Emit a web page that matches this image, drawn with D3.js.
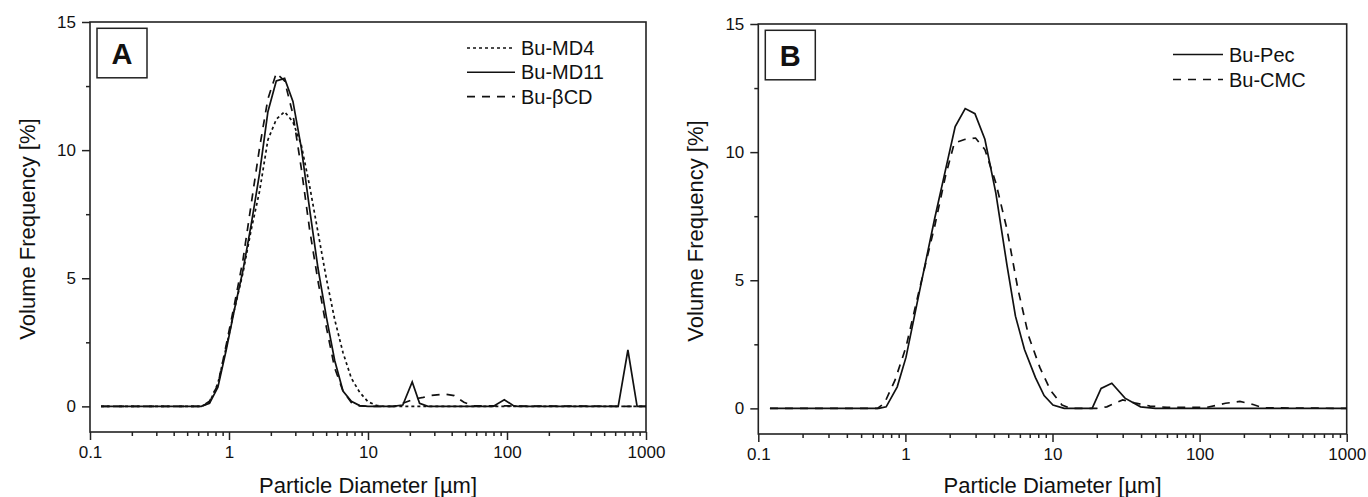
<!DOCTYPE html>
<html>
<head>
<meta charset="utf-8">
<title>Particle size distribution</title>
<script src="https://d3js.org/d3.v7.min.js"></script>
<style>
  body { margin: 0; background: #fff; }
  svg text { font-family: "Liberation Sans", Arial, sans-serif; fill: #111; }
</style>
</head>
<body>
<script>
// ---- data ----
var md4D  = [0.12, 0.631, 0.724, 0.832, 0.955, 1.096, 1.259, 1.445, 1.66, 1.905, 2.188, 2.512, 2.884, 3.311, 3.802, 4.365, 5.012, 5.754, 6.607, 7.586, 8.71, 10.0, 11.48, 13.18, 1000]
var md4V  = [0, 0, 0.15, 0.9, 2.3, 3.8, 5.2, 6.9, 8.4, 10.4, 11.2, 11.5, 11.1, 10.2, 8.6, 6.8, 5.0, 3.4, 2.1, 1.1, 0.55, 0.18, 0.04, 0, 0]

var md11D = [0.12, 0.631, 0.724, 0.832, 0.955, 1.096, 1.259, 1.445, 1.66, 1.905, 2.188, 2.512, 2.884, 3.311, 3.802, 4.365, 5.012, 5.754, 6.607, 7.586, 8.71, 10.0, 15.14, 17.8, 20.8, 23.5, 27.0, 79.43, 95.6, 112, 120.2, 631.0, 741, 863, 1000]
var md11V = [0, 0, 0.12, 0.75, 2.2, 3.8, 5.3, 7.1, 9.1, 11.5, 12.7, 12.8, 11.9, 10.1, 7.7, 5.4, 3.5, 1.8, 0.6, 0.2, 0.03, 0, 0, 0.05, 0.95, 0.12, 0, 0, 0.26, 0.02, 0, 0, 2.2, 0, 0]

var bcdD  = [0.12, 0.631, 0.724, 0.832, 0.955, 1.096, 1.259, 1.445, 1.66, 1.905, 2.188, 2.512, 2.884, 3.311, 3.802, 4.365, 5.012, 5.754, 6.607, 7.586, 8.71, 10.0, 15.5, 17.38, 21.5, 25.0, 28.0, 35.3, 41.7, 49.0, 57.5, 1000]
var bcdV  = [0, 0, 0.2, 0.85, 2.4, 4.0, 5.7, 7.9, 10.1, 12.0, 13.0, 12.7, 11.4, 9.3, 6.9, 4.9, 3.1, 1.5, 0.6, 0.15, 0.02, 0, 0, 0.1, 0.29, 0.35, 0.42, 0.48, 0.42, 0.16, 0.02, 0]

var pecD  = [0.12, 0.66, 0.74, 0.88, 1.01, 1.24, 1.58, 1.94, 2.18, 2.55, 2.97, 3.47, 4.12, 4.9, 5.6, 6.45, 7.66, 8.77, 10.07, 12.0, 18.6, 21.4, 25.3, 31.1, 39.7, 50.0, 1000]
var pecV  = [0, 0, 0.06, 0.84, 2.0, 4.5, 7.4, 9.7, 11.0, 11.7, 11.5, 10.5, 8.4, 5.6, 3.6, 2.3, 1.2, 0.5, 0.13, 0, 0, 0.78, 0.98, 0.4, 0.06, 0, 0]

var cmcD  = [0.12, 0.645, 0.72, 0.85, 1.01, 1.24, 1.58, 1.87, 2.15, 2.55, 3.0, 3.47, 4.12, 4.9, 5.8, 6.9, 8.2, 9.7, 11.6, 13.3, 20.0, 23.4, 26.0, 30.0, 36.0, 46.0, 60.0, 112, 150, 188, 231, 271, 1000]
var cmcV  = [0, 0, 0.2, 1.1, 2.4, 4.6, 7.1, 9.05, 10.35, 10.5, 10.55, 10.1, 8.8, 7.0, 4.7, 2.8, 1.6, 0.7, 0.13, 0, 0, 0.06, 0.18, 0.33, 0.22, 0.09, 0.04, 0.04, 0.2, 0.27, 0.15, 0.02, 0]

var xMajor = [0.1, 1, 10, 100, 1000]
var xMinor = [0.2, 0.3, 0.4, 0.5, 0.6, 0.7, 0.8, 0.9, 2, 3, 4, 5, 6, 7, 8, 9, 20, 30, 40, 50, 60, 70, 80, 90, 200, 300, 400, 500, 600, 700, 800, 900]
var yMajor = [0, 5, 10, 15]
var yMinor = [2.5, 7.5, 12.5]

function zip(d, v) { return d.map(function (x, i) { return [x, v[i]] }) }

var dotted = '3,3', dashed = '8,7'

var panels = [
    { letter: 'A', left: 90, right: 646, top: 22, bottom: 432,
      series: [
          { name: 'Bu-MD4', pts: zip(md4D, md4V), dash: dotted },
          { name: 'Bu-MD11', pts: zip(md11D, md11V), dash: null },
          { name: 'Bu-\u03B2CD', pts: zip(bcdD, bcdV), dash: dashed }
      ],
      legend: { x: 467, y: 48, step: 24.3, len: 48 } },
    { letter: 'B', left: 758.3, right: 1346.7, top: 24, bottom: 434,
      series: [
          { name: 'Bu-Pec', pts: zip(pecD, pecV), dash: null },
          { name: 'Bu-CMC', pts: zip(cmcD, cmcV), dash: dashed }
      ],
      legend: { x: 1173, y: 54.5, step: 25, len: 50 } }
]

var svg = d3.select('body').append('svg')
    .attr('width', 1368)
    .attr('height', 497)

panels.forEach(function (p) {
    var x = d3.scaleLog().domain([0.1, 1000]).range([p.left, p.right])
    var y = d3.scaleLinear().domain([-1, 15]).range([p.bottom, p.top])
    var g = svg.append('g')

    // minor ticks first, then major with labels
    g.append('g')
        .attr('transform', 'translate(0,' + p.bottom + ')')
        .call(d3.axisBottom(x).tickValues(xMinor).tickSize(4).tickSizeOuter(0).tickFormat(''))
    g.append('g')
        .attr('transform', 'translate(0,' + p.bottom + ')')
        .call(d3.axisBottom(x).tickValues(xMajor).tickSize(8).tickSizeOuter(0).tickPadding(6)
            .tickFormat(function (d) { return d < 1 ? '0.1' : d3.format('d')(d) }))
    g.append('g')
        .attr('transform', 'translate(' + p.left + ',0)')
        .call(d3.axisLeft(y).tickValues(yMinor).tickSize(4).tickSizeOuter(0).tickFormat(''))
    g.append('g')
        .attr('transform', 'translate(' + p.left + ',0)')
        .call(d3.axisLeft(y).tickValues(yMajor).tickSize(8).tickSizeOuter(0).tickPadding(6))

    g.selectAll('.domain').remove()
    g.selectAll('.tick line').attr('stroke', '#222').attr('stroke-width', 1.5)
    g.selectAll('.tick text').style('font-size', '17px').style('font-family', '"Liberation Sans", Arial, sans-serif')

    g.append('rect')
        .attr('x', p.left)
        .attr('y', p.top)
        .attr('width', p.right - p.left)
        .attr('height', p.bottom - p.top)
        .attr('fill', 'none')
        .attr('stroke', '#222')
        .attr('stroke-width', 1.6)

    var line = d3.line()
        .x(function (d) { return x(d[0]) })
        .y(function (d) { return y(d[1]) })

    p.series.forEach(function (s) {
        g.append('path')
            .datum(s.pts)
            .attr('d', line)
            .attr('fill', 'none')
            .attr('stroke', '#111')
            .attr('stroke-width', 1.7)
            .attr('stroke-dasharray', s.dash)
    })

    // letter box
    g.append('rect')
        .attr('x', p.left + 7)
        .attr('y', p.top + 6.3)
        .attr('width', 50)
        .attr('height', 49.5)
        .attr('fill', '#fff')
        .attr('stroke', '#222')
        .attr('stroke-width', 1.5)
    g.append('text')
        .attr('x', p.left + 32)
        .attr('y', p.top + 41.5)
        .attr('text-anchor', 'middle')
        .style('font-size', '29px')
        .style('font-weight', 'bold')
        .text(p.letter)

    // legend
    p.series.forEach(function (s, i) {
        var ly = p.legend.y + i * p.legend.step
        g.append('line')
            .attr('x1', p.legend.x)
            .attr('x2', p.legend.x + p.legend.len)
            .attr('y1', ly)
            .attr('y2', ly)
            .attr('stroke', '#111')
            .attr('stroke-width', 1.6)
            .attr('stroke-dasharray', s.dash)
        g.append('text')
            .attr('x', p.legend.x + p.legend.len + 6)
            .attr('y', ly + 7)
            .style('font-size', '20px')
            .text(s.name)
    })

    // axis titles
    g.append('text')
        .attr('x', (p.left + p.right) / 2)
        .attr('y', 493)
        .attr('text-anchor', 'middle')
        .style('font-size', '22px')
        .text('Particle Diameter [\u00B5m]')
    g.append('text')
        .attr('transform', 'translate(' + (p.left - 55) + ',' + ((p.top + p.bottom) / 2 + 2) + ') rotate(-90)')
        .attr('text-anchor', 'middle')
        .style('font-size', '22px')
        .text('Volume Frequency [%]')
})
</script>
</body>
</html>
